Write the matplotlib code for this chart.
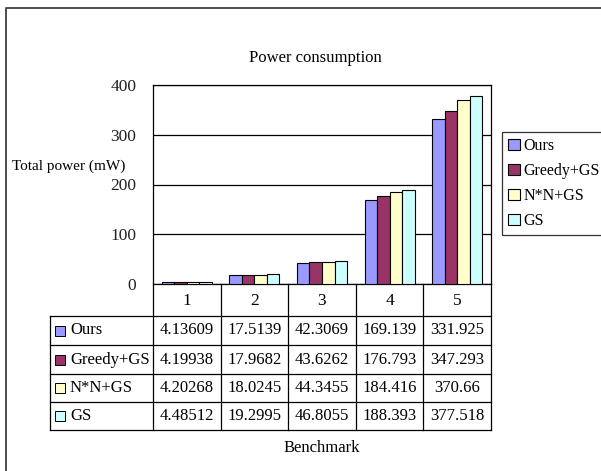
import numpy as np
import matplotlib.pyplot as plt
from matplotlib.patches import Rectangle
from matplotlib.lines import Line2D

plt.rcParams['font.family'] = ['Liberation Serif', 'DejaVu Serif']

categories = ['1', '2', '3', '4', '5']
series_names = ['Ours', 'Greedy+GS', 'N*N+GS', 'GS']
ours = [4.13609, 17.5139, 42.3069, 169.139, 331.925]
greedy_gs = [4.19938, 17.9682, 43.6262, 176.793, 347.293]
nn_gs = [4.20268, 18.0245, 44.3455, 184.416, 370.66]
gs = [4.48512, 19.2995, 46.8055, 188.393, 377.518]
values = [ours, greedy_gs, nn_gs, gs]
value_labels = [['4.13609', '17.5139', '42.3069', '169.139', '331.925'],
                ['4.19938', '17.9682', '43.6262', '176.793', '347.293'],
                ['4.20268', '18.0245', '44.3455', '184.416', '370.66'],
                ['4.48512', '19.2995', '46.8055', '188.393', '377.518']]
colors = ['#9999FF', '#993366', '#FFFFCC', '#CCFFFF']

W, H = 601, 471
fig = plt.figure(figsize=(W / 100, H / 100), dpi=100)


def fx(x):
    return x / W


def fy(y):
    return 1 - y / H


# outer chart border (only top and left show inside the picture)
fig.add_artist(Line2D([fx(6), fx(6), fx(601)], [fy(471), fy(8), fy(8)], transform=fig.transFigure,
                      color='#404040', linewidth=1.3))

plot_left, plot_right, plot_top, plot_bottom = 153, 491, 85, 284
ax = fig.add_axes([fx(plot_left), fy(plot_bottom), fx(plot_right - plot_left), fy(plot_top) - fy(plot_bottom)])

x = np.arange(len(categories))
bw = 0.185
for i, (vals, c) in enumerate(zip(values, colors)):
    ax.bar(x + (i - 1.5) * bw, vals, bw, color=c, edgecolor='black', linewidth=0.8,
           label=series_names[i], zorder=3)

ax.set_xlim(-0.5, 4.5)
ax.set_ylim(0, 400)
ax.set_yticks([0, 100, 200, 300, 400])
ax.tick_params(axis='y', length=0, labelsize=12.5, pad=12, labelcolor='#222222')
ax.set_xticks([])
ax.grid(axis='y', color='black', linewidth=0.9, zorder=0)
for s in ax.spines.values():
    s.set_linewidth(0.9)

fig.text(fx(315), fy(58), 'Power consumption', ha='center', va='center', fontsize=12)
fig.text(fx(12), fy(166), 'Total power (mW)', ha='left', va='center', fontsize=11)
fig.text(fx(322), fy(448), 'Benchmark', ha='center', va='center', fontsize=12)

# data table under the axis
col_w = (plot_right - plot_left) / len(categories)
row_edges = [284, 316, 345, 374, 402, 430]
tab_left = 50
lw = 0.9


def hline(y, x0, x1):
    fig.add_artist(Line2D([fx(x0), fx(x1)], [fy(y), fy(y)], transform=fig.transFigure,
                          color='black', linewidth=lw))


def vline(xp, y0, y1):
    fig.add_artist(Line2D([fx(xp), fx(xp)], [fy(y0), fy(y1)], transform=fig.transFigure,
                          color='black', linewidth=lw))


for y in row_edges[1:]:
    hline(y, tab_left, plot_right)
vline(tab_left, row_edges[1], row_edges[-1])
for j in range(len(categories) + 1):
    vline(plot_left + j * col_w, row_edges[0], row_edges[-1])

for j, cat in enumerate(categories):
    cx = plot_left + (j + 0.5) * col_w
    fig.text(fx(cx), fy((row_edges[0] + row_edges[1]) / 2 + 1), cat, ha='center', va='center', fontsize=12.5)

for i, name in enumerate(series_names):
    cy = (row_edges[i + 1] + row_edges[i + 2]) / 2
    fig.add_artist(Rectangle((fx(55), fy(cy + 5)), fx(10), fy(cy - 5) - fy(cy + 5),
                             transform=fig.transFigure, facecolor=colors[i],
                             edgecolor='black', linewidth=0.7))
    fig.text(fx(70), fy(cy), name, ha='left', va='center', fontsize=12)
    for j in range(len(categories)):
        cx = plot_left + (j + 0.5) * col_w
        fig.text(fx(cx), fy(cy), value_labels[i][j], ha='center', va='center', fontsize=12)

leg = fig.legend(loc='upper left', bbox_to_anchor=(fx(502), fy(132)), frameon=True, fancybox=False,
                 edgecolor='black', fontsize=11.5, handlelength=0.7, handleheight=0.7,
                 handletextpad=0.25, labelspacing=0.55, borderpad=0.4, borderaxespad=0)
leg.get_frame().set_linewidth(0.9)

fig.savefig('out.png', dpi=100)
